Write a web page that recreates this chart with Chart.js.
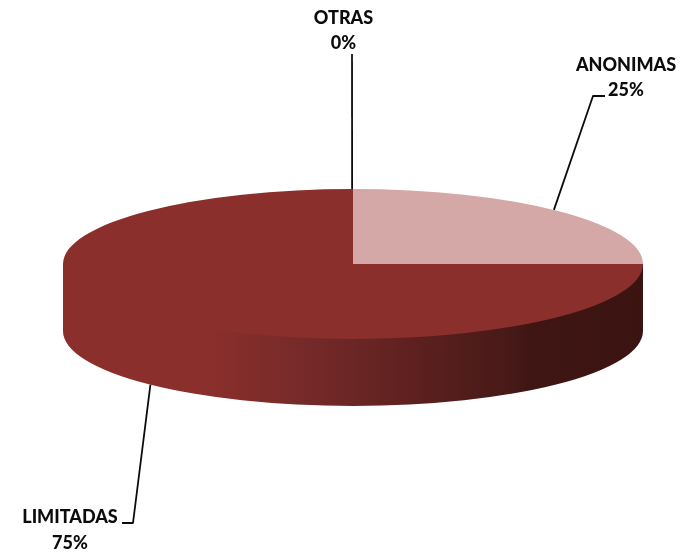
<!DOCTYPE html>
<html>
<head>
<meta charset="utf-8">
<style>
html,body{margin:0;padding:0;background:#fff}
canvas{display:block}
#w{width:693px;height:553px;position:relative}
</style>
<script src="https://cdn.jsdelivr.net/npm/chart.js@4"></script>
</head>
<body>
<div id="w"><canvas id="c" width="693" height="553"></canvas></div>
<script>
const categories = ['ANONIMAS', 'LIMITADAS', 'OTRAS'];
const shares = [25, 75, 0];
const sliceColors = ['#d4a8a6', '#8a2f2c', '#8a2f2c'];

const RX = 290, RY = 75, DEPTH = 67;
const squash = RY / RX;

// label placement: text centre, elbow polyline start
const labelLayout = [
  {cx: 626, y1: 65, y2: 90, elbow: [[605, 96], [593, 96]], side: 'top', nudge: -0.02},
  {cx: 70, y1: 517, y2: 543, elbow: [[122, 523], [133, 523]], side: 'wall', nudge: -0.012},
  {cx: 343.5, y1: 18, y2: 43, elbow: [[352, 54]], side: 'top', nudge: -0.003}
];

const pie3d = {
  id: 'pie3d',
  beforeDatasetsDraw(chart) {
    const ctx = chart.ctx;
    const arcs = chart.getDatasetMeta(0).data;
    const cx = arcs[0].x, cy = arcs[0].y;
    const grad = ctx.createLinearGradient(cx - RX, 0, cx + RX, 0);
    grad.addColorStop(0, '#8a2f2c');
    grad.addColorStop(0.25, '#8a2f2c');
    grad.addColorStop(0.42, '#752a29');
    grad.addColorStop(0.6, '#5e211f');
    grad.addColorStop(0.78, '#451917');
    grad.addColorStop(0.8, '#3f1614');
    grad.addColorStop(1, '#3b1311');
    arcs.forEach(a => {
      const s = Math.max(a.startAngle, 0), e = Math.min(a.endAngle, Math.PI);
      if (e <= s) return;
      ctx.beginPath();
      ctx.moveTo(cx + RX * Math.cos(s), cy + RY * Math.sin(s));
      ctx.lineTo(cx + RX * Math.cos(s), cy + DEPTH + RY * Math.sin(s));
      ctx.ellipse(cx, cy + DEPTH, RX, RY, 0, s, e, false);
      ctx.lineTo(cx + RX * Math.cos(e), cy + RY * Math.sin(e));
      ctx.closePath();
      ctx.fillStyle = grad;
      ctx.fill();
    });
    ctx.save();
    ctx.translate(0, cy);
    ctx.scale(1, squash);
    ctx.translate(0, -cy);
  },
  afterDatasetsDraw(chart) {
    const ctx = chart.ctx;
    ctx.restore();
    const arcs = chart.getDatasetMeta(0).data;
    ctx.strokeStyle = '#0c0c0c';
    ctx.lineWidth = 1.8;
    ctx.lineJoin = 'round';
    ctx.fillStyle = '#0c0c0c';
    ctx.font = '900 18px Lato, "Open Sans", sans-serif';
    ctx.textAlign = 'center';
    ctx.textBaseline = 'middle';
    arcs.forEach((a, i) => {
      const mid = (a.startAngle + a.endAngle) / 2 + labelLayout[i].nudge;
      const ax = a.x + RX * Math.cos(mid);
      const ay = a.y + RY * Math.sin(mid) + (labelLayout[i].side === 'wall' ? DEPTH : 0);
      ctx.beginPath();
      labelLayout[i].elbow.forEach((p, k) => k ? ctx.lineTo(p[0], p[1]) : ctx.moveTo(p[0], p[1]));
      ctx.lineTo(ax, ay);
      ctx.stroke();
      ctx.fillText(categories[i], labelLayout[i].cx, labelLayout[i].y1);
      ctx.fillText(shares[i] + '%', labelLayout[i].cx, labelLayout[i].y2);
    });
  }
};

new Chart(document.getElementById('c'), {
  type: 'pie',
  data: {
    labels: categories,
    datasets: [{data: shares, backgroundColor: sliceColors, borderWidth: 0, clip: false}]
  },
  options: {
    responsive: false,
    animation: false,
    radius: RX,
    layout: {padding: {left: 13, bottom: 25}},
    plugins: {legend: {display: false}, tooltip: {enabled: false}}
  },
  plugins: [pie3d]
});
</script>
</body>
</html>
